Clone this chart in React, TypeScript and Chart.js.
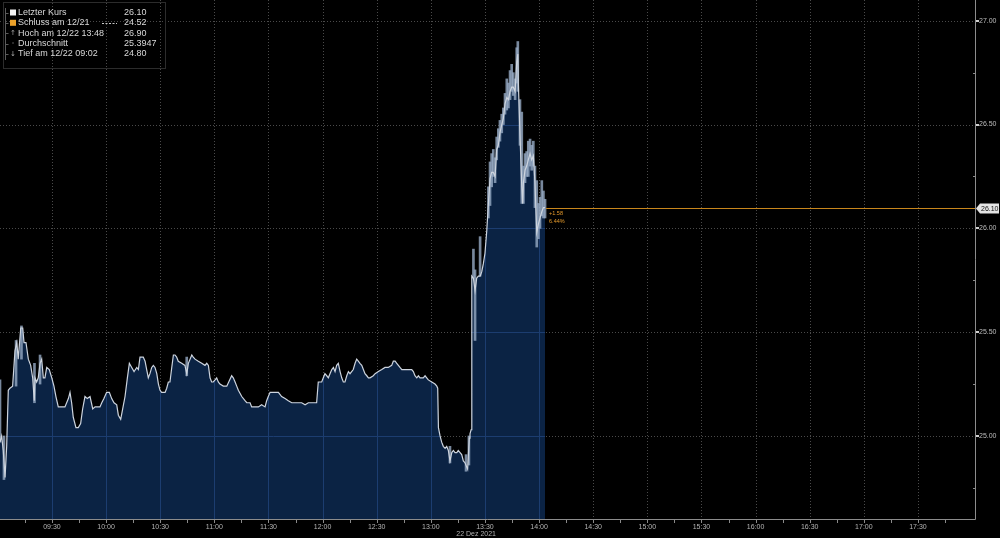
import React, { useEffect, useRef } from 'react';
import { Chart, registerables } from 'chart.js';

Chart.register(...registerables);

const FONT = '"Liberation Sans", Arial, Helvetica, sans-serif';

// ---------- data ----------
const SESSION_DATE = '22 Dez 2021';
const OPEN_MIN = 540; // 09:00 expressed in minutes after midnight

// [minutes after 09:00, price]
const morning: [number, number][] = [
  [1.2, 24.97], [2.1, 25.0], [3.0, 24.93], [4.0, 24.8], [4.9, 24.95], [5.8, 25.22], [6.7, 25.23], [8.2, 25.24],
  [9.5, 25.41], [10.5, 25.45], [11.3, 25.37], [12.7, 25.52], [13.8, 25.52], [14.5, 25.45], [15.6, 25.45], [16.9, 25.37],
  [18.2, 25.34], [19.3, 25.28], [20.2, 25.17], [20.6, 25.28], [21.5, 25.26], [22.4, 25.28], [23.4, 25.35], [24.3, 25.37],
  [25.2, 25.28], [26.1, 25.28], [27.1, 25.33], [28.5, 25.32], [29.9, 25.28], [31.1, 25.24], [32.2, 25.19], [33.5, 25.14],
  [35.4, 25.14], [37.2, 25.14], [39.1, 25.18], [40.0, 25.21], [40.9, 25.16], [41.8, 25.09], [43.3, 25.04], [44.6, 25.04],
  [45.9, 25.06], [47.0, 25.13], [48.3, 25.19], [49.6, 25.18], [51.1, 25.19], [52.6, 25.13], [53.9, 25.14], [55.1, 25.14],
  [56.6, 25.14], [57.6, 25.16], [58.8, 25.18], [60.3, 25.21], [61.8, 25.21], [63.1, 25.18], [64.4, 25.16], [65.9, 25.15],
  [66.8, 25.1], [68.1, 25.08], [69.2, 25.13], [70.5, 25.19], [71.8, 25.28], [72.9, 25.35], [74.2, 25.33], [75.5, 25.31],
  [77.0, 25.33],
];

const midday: [number, number][] = [
  [77.9, 25.32], [78.8, 25.38], [80.6, 25.38], [81.6, 25.36], [82.5, 25.32], [83.4, 25.28], [84.3, 25.3], [85.3, 25.33],
  [86.2, 25.34], [87.1, 25.33], [88.1, 25.3], [89.0, 25.25], [89.9, 25.22], [90.8, 25.21], [92.7, 25.21], [93.6, 25.23],
  [94.5, 25.26], [95.4, 25.26], [96.4, 25.33], [97.3, 25.39], [98.2, 25.39], [99.1, 25.38], [100.0, 25.36], [101.9, 25.35],
  [103.7, 25.34], [104.7, 25.3], [105.6, 25.35], [107.5, 25.39], [108.3, 25.38], [109.3, 25.37], [111.1, 25.36], [113.0, 25.35],
  [114.8, 25.34], [115.8, 25.35], [116.7, 25.34], [117.6, 25.28], [118.5, 25.26], [119.4, 25.26], [120.4, 25.27], [121.3, 25.28],
  [122.2, 25.26], [123.1, 25.25], [125.0, 25.24], [126.9, 25.24], [129.6, 25.29], [130.5, 25.28], [131.5, 25.26], [132.4, 25.24],
  [133.3, 25.22], [135.2, 25.19], [137.0, 25.17], [138.0, 25.16], [139.8, 25.16], [140.7, 25.14], [142.5, 25.14], [144.4, 25.14],
  [146.2, 25.15], [148.1, 25.14], [149.0, 25.17], [149.9, 25.19], [150.9, 25.21], [153.6, 25.21], [155.5, 25.21], [157.3, 25.19],
  [159.2, 25.18], [161.0, 25.17], [162.9, 25.16], [166.5, 25.16],
];

const lunch: [number, number][] = [
  [168.4, 25.16], [170.3, 25.15], [172.1, 25.16], [175.8, 25.16], [176.7, 25.16], [177.6, 25.26], [179.5, 25.26], [180.4, 25.28],
  [181.3, 25.3], [182.3, 25.29], [183.2, 25.28], [184.1, 25.3], [185.1, 25.32], [186.0, 25.33], [186.9, 25.31], [187.8, 25.34],
  [188.7, 25.35], [189.7, 25.31], [190.6, 25.28], [191.5, 25.26], [192.4, 25.26], [193.4, 25.29], [194.3, 25.31], [195.2, 25.3],
  [196.1, 25.31], [197.0, 25.32], [198.0, 25.35], [198.9, 25.37], [199.8, 25.36], [200.7, 25.35], [201.7, 25.34], [202.6, 25.32],
  [203.5, 25.3], [204.5, 25.29], [205.4, 25.28], [206.3, 25.28], [208.1, 25.29], [209.1, 25.3], [210.9, 25.31], [212.8, 25.32],
  [214.6, 25.33], [216.4, 25.33], [218.3, 25.34], [219.2, 25.36], [220.2, 25.36], [221.1, 25.35], [222.0, 25.34], [222.9, 25.33],
  [223.9, 25.32], [229.4, 25.32], [230.3, 25.31], [231.2, 25.29], [232.2, 25.28], [233.1, 25.29], [234.0, 25.28], [235.8, 25.28],
  [236.8, 25.29], [237.7, 25.28], [238.6, 25.27], [240.5, 25.26], [242.3, 25.25], [243.3, 25.24], [243.8, 25.23],
];

const afternoon: [number, number][] = [
  [244.2, 25.04], [245.1, 25.0], [246.0, 24.97], [246.9, 24.95], [247.9, 24.94], [248.8, 24.95], [249.7, 24.93], [250.6, 24.88],
  [251.6, 24.92], [252.5, 24.93], [253.4, 24.92], [254.4, 24.92], [255.2, 24.93], [256.2, 24.92], [257.1, 24.91], [258.0, 24.88],
  [259.0, 24.87], [259.9, 24.85], [260.4, 24.84], [261.3, 24.99], [261.7, 25.01], [262.3, 25.03], [262.7, 25.77], [263.6, 25.76],
  [264.5, 25.7], [265.4, 25.76], [266.3, 25.77], [267.3, 25.77], [268.2, 25.79], [269.1, 25.83], [270.0, 25.88], [271.0, 25.99],
  [271.9, 26.12], [272.8, 26.24], [273.7, 26.27], [274.6, 26.27], [275.6, 26.25], [276.5, 26.38], [277.4, 26.4], [278.3, 26.46],
  [279.3, 26.5], [280.2, 26.53], [281.1, 26.6], [282.1, 26.63], [283.0, 26.62], [283.9, 26.66], [284.8, 26.68], [285.7, 26.68],
  [286.7, 26.66], [287.6, 26.8], [288.2, 26.84], [288.5, 26.7], [289.4, 26.45], [290.4, 26.2], [290.9, 26.12], [291.3, 26.22],
  [292.2, 26.28], [293.1, 26.3], [294.0, 26.33], [295.0, 26.36], [295.9, 26.33], [296.8, 26.35], [297.7, 26.22], [298.7, 25.98],
  [299.6, 26.02], [300.5, 26.05], [301.5, 26.08], [302.4, 26.1], [303.3, 26.1],
];

// [minutes after 09:00, low, high] – visible per-minute ranges
const wicks: [number, number, number][] = [
  [1.2, 24.97, 25.27], [3.4, 24.79, 25.0], [10.1, 25.24, 25.46], [13.1, 25.37, 25.53], [20.3, 25.16, 25.35],
  [23.4, 25.25, 25.39], [104.7, 25.29, 25.38], [250.6, 24.87, 24.95], [259.5, 24.83, 24.91], [261.1, 24.86, 25.0],
  [263.6, 25.76, 25.9], [264.5, 25.46, 25.8], [267.3, 25.77, 25.96], [271.9, 26.05, 26.2], [272.8, 26.11, 26.32],
  [273.7, 26.2, 26.36], [274.6, 26.25, 26.38], [275.6, 26.22, 26.34], [276.5, 26.33, 26.44], [277.4, 26.39, 26.48],
  [278.3, 26.42, 26.52], [279.3, 26.46, 26.55], [280.2, 26.5, 26.58], [281.1, 26.55, 26.65], [282.1, 26.57, 26.72],
  [283.0, 26.58, 26.7], [283.9, 26.62, 26.76], [284.8, 26.66, 26.79], [285.7, 26.64, 26.75], [286.7, 26.62, 26.72],
  [287.6, 26.7, 26.87], [288.2, 26.66, 26.9], [289.4, 26.4, 26.62], [290.4, 26.12, 26.56], [291.3, 26.12, 26.3],
  [292.2, 26.22, 26.36], [293.1, 26.25, 26.37], [294.0, 26.25, 26.42], [295.0, 26.3, 26.43], [295.9, 26.28, 26.4],
  [296.8, 26.3, 26.42], [297.7, 26.1, 26.3], [298.7, 25.91, 26.23], [299.6, 25.95, 26.12], [300.5, 26.0, 26.15],
  [301.5, 26.06, 26.23], [302.4, 26.05, 26.18], [303.3, 26.05, 26.14],
];

const priceTicks = [25.0, 25.5, 26.0, 26.5, 27.0];
const timeLabels = ['09:30', '10:00', '10:30', '11:00', '11:30', '12:00', '12:30', '13:00', '13:30', '14:00',
  '14:30', '15:00', '15:30', '16:00', '16:30', '17:00', '17:30'];
const lastPrice = 26.1;
const prevClose = 24.52;

const legendLabels = ['Letzter Kurs', 'Schluss am 12/21', 'Hoch am 12/22 13:48', 'Durchschnitt', 'Tief am 12/22 09:02'];
const legendValues = ['26.10', '24.52', '26.90', '25.3947', '24.80'];

// ---------- axis config ----------
const VIEW_START = 541.2;
const VIEW_END = 1081.6;
const PRICE_MIN = 24.6;
const PRICE_MAX = 27.1;

const toMin = (s: string) => {
  const [h, m] = s.split(':').map(Number);
  return h * 60 + m;
};
const fmtTime = (v: number) => {
  const h = Math.floor(v / 60);
  const m = Math.round(v - h * 60);
  return `${String(h).padStart(2, '0')}:${String(m).padStart(2, '0')}`;
};
const halfHours = timeLabels.map(toMin);
const quarterHours: number[] = [];
for (let m = toMin('09:15'); m <= toMin('17:45'); m += 15) quarterHours.push(m);
const minorPrices = [24.75, 25.25, 25.75, 26.25, 26.75];

const series = [...morning, ...midday, ...lunch, ...afternoon].map(([t, p]) => ({ x: OPEN_MIN + t, y: p }));
const wickData = wicks.map(([t, lo, hi]) => ({ x: OPEN_MIN + t, y: [lo, hi] }));

const zeroPadding = (s: any) => {
  s.paddingTop = 0;
  s.paddingBottom = 0;
  s.paddingLeft = 0;
  s.paddingRight = 0;
};

const bbPlugin = {
  id: 'bbLook',
  beforeDraw(chart: any) {
    const { ctx, chartArea: a, scales } = chart;
    const x = scales.x;
    const y = scales.y;
    ctx.save();
    ctx.fillStyle = '#000';
    ctx.fillRect(0, 0, chart.width, chart.height);
    ctx.strokeStyle = '#4a4a4a';
    ctx.lineWidth = 1;
    ctx.setLineDash([1, 2]);
    ctx.beginPath();
    halfHours.forEach((v) => {
      const px = Math.round(x.getPixelForValue(v)) + 0.5;
      ctx.moveTo(px, a.top);
      ctx.lineTo(px, a.bottom);
    });
    priceTicks.forEach((v) => {
      const py = Math.round(y.getPixelForValue(v)) + 0.5;
      ctx.moveTo(a.left, py);
      ctx.lineTo(a.right, py);
    });
    ctx.stroke();
    ctx.restore();
  },
  beforeDatasetsDraw(chart: any) {
    const { ctx, chartArea: a, scales } = chart;
    const x = scales.x;
    const y = scales.y;
    const pts = chart.getDatasetMeta(0).data;
    if (!pts.length) return;
    ctx.save();
    ctx.beginPath();
    ctx.moveTo(pts[0].x, a.bottom);
    pts.forEach((p: any) => ctx.lineTo(p.x, p.y));
    ctx.lineTo(pts[pts.length - 1].x, a.bottom);
    ctx.closePath();
    ctx.clip();
    ctx.strokeStyle = '#1c3d70';
    ctx.lineWidth = 1;
    ctx.beginPath();
    halfHours.forEach((v) => {
      const px = Math.round(x.getPixelForValue(v)) + 0.5;
      ctx.moveTo(px, a.top);
      ctx.lineTo(px, a.bottom);
    });
    priceTicks.forEach((v) => {
      const py = Math.round(y.getPixelForValue(v)) + 0.5;
      ctx.moveTo(a.left, py);
      ctx.lineTo(a.right, py);
    });
    ctx.stroke();
    ctx.restore();
  },
  afterDatasetsDraw(chart: any) {
    const { ctx, chartArea: a, scales } = chart;
    const y = scales.y;
    const pts = chart.getDatasetMeta(0).data;
    const last = pts[pts.length - 1];
    const py = Math.round(y.getPixelForValue(lastPrice)) + 0.5;
    ctx.save();
    ctx.strokeStyle = '#c8861c';
    ctx.lineWidth = 1;
    ctx.beginPath();
    ctx.moveTo(last.x + 1, py);
    ctx.lineTo(a.right, py);
    ctx.stroke();
    const diff = lastPrice - prevClose;
    const pct = (diff / prevClose) * 100;
    ctx.fillStyle = '#e59a2b';
    ctx.font = `5.5px ${FONT}`;
    ctx.textBaseline = 'middle';
    ctx.textAlign = 'left';
    ctx.fillText(`${diff >= 0 ? '+' : ''}${diff.toFixed(2)}`, last.x + 4, py + 5);
    ctx.fillText(`${pct.toFixed(2)}%`, last.x + 4, py + 13);
    ctx.restore();
  },
  afterDraw(chart: any) {
    const { ctx, chartArea: a, scales } = chart;
    const x = scales.x;
    const y = scales.y;
    ctx.save();
    // axis lines
    ctx.strokeStyle = '#8c8c8c';
    ctx.lineWidth = 1;
    ctx.beginPath();
    ctx.moveTo(a.right + 0.5, a.top);
    ctx.lineTo(a.right + 0.5, a.bottom + 0.5);
    ctx.moveTo(a.left, a.bottom + 0.5);
    ctx.lineTo(a.right + 0.5, a.bottom + 0.5);
    ctx.stroke();
    // x tick marks
    ctx.strokeStyle = '#8a8a8a';
    ctx.beginPath();
    quarterHours.forEach((v) => {
      const px = Math.round(x.getPixelForValue(v)) + 0.5;
      ctx.moveTo(px, a.bottom + 1);
      ctx.lineTo(px, a.bottom + 4);
    });
    ctx.stroke();
    // y tick marks
    ctx.fillStyle = '#cfcfcf';
    priceTicks.forEach((v) => {
      const py = Math.round(y.getPixelForValue(v));
      ctx.fillRect(a.right + 1, py - 1, 3, 2);
    });
    ctx.fillStyle = '#8a8a8a';
    minorPrices.forEach((v) => {
      const py = Math.round(y.getPixelForValue(v));
      ctx.fillRect(a.right - 2, py, 2, 1);
    });
    // last price box
    const lp = Math.round(y.getPixelForValue(lastPrice)) + 0.5;
    ctx.fillStyle = '#e4e4e4';
    ctx.beginPath();
    ctx.moveTo(a.right + 1, lp);
    ctx.lineTo(a.right + 5, lp - 5);
    ctx.lineTo(chart.width - 1, lp - 5);
    ctx.lineTo(chart.width - 1, lp + 5);
    ctx.lineTo(a.right + 5, lp + 5);
    ctx.closePath();
    ctx.fill();
    ctx.fillStyle = '#111';
    ctx.font = `7px ${FONT}`;
    ctx.textBaseline = 'middle';
    ctx.textAlign = 'left';
    ctx.fillText(lastPrice.toFixed(2), a.right + 6, lp + 0.5);
    // date
    ctx.fillStyle = '#b0b0b0';
    ctx.textAlign = 'right';
    ctx.fillText(SESSION_DATE, x.getPixelForValue(toMin('13:30')) + 11, a.bottom + 15);
    // legend
    ctx.strokeStyle = '#2c2c2c';
    ctx.strokeRect(3.5, 2.5, 162, 66);
    ctx.strokeStyle = '#5c5c5c';
    ctx.beginPath();
    ctx.moveTo(5.5, 8);
    ctx.lineTo(5.5, 60);
    ctx.stroke();
    ctx.font = `9px ${FONT}`;
    ctx.textAlign = 'left';
    legendLabels.forEach((label, i) => {
      const ry = 12.7 + i * 10.3;
      ctx.strokeStyle = '#5c5c5c';
      ctx.beginPath();
      ctx.moveTo(5.5, Math.round(ry) + 0.5);
      ctx.lineTo(8.5, Math.round(ry) + 0.5);
      ctx.stroke();
      if (i === 0 || i === 1) {
        ctx.fillStyle = i === 0 ? '#f2f2f2' : '#eba12a';
        ctx.fillRect(10, ry - 3.2, 6, 6);
      } else {
        ctx.fillStyle = '#a8a8a8';
        ctx.font = `7px "DejaVu Sans", sans-serif`;
        ctx.textAlign = 'center';
        ctx.fillText(i === 2 ? '↑' : i === 3 ? '-' : '↓', 13, ry);
        ctx.font = `9px ${FONT}`;
        ctx.textAlign = 'left';
      }
      ctx.fillStyle = '#d8d8d8';
      ctx.fillText(label, 18, ry);
      ctx.fillText(legendValues[i], 124, ry);
    });
    ctx.strokeStyle = '#c8c8c8';
    ctx.setLineDash([2, 1.5]);
    ctx.beginPath();
    ctx.moveTo(102, 23.5);
    ctx.lineTo(117, 23.5);
    ctx.stroke();
    ctx.restore();
  },
};

export default function App() {
  const ref = useRef<HTMLCanvasElement>(null);
  useEffect(() => {
    document.body.style.margin = '0';
    document.body.style.background = '#000';
    const chart = new Chart(ref.current as HTMLCanvasElement, {
      type: 'line',
      data: {
        datasets: [
          {
            type: 'line',
            data: series as any,
            borderColor: '#cdd4de',
            borderWidth: 1.2,
            backgroundColor: '#0b2344',
            fill: 'start',
            pointRadius: 0,
            tension: 0,
          },
          {
            type: 'bar',
            data: wickData as any,
            backgroundColor: 'rgba(150,170,196,0.8)',
            borderWidth: 0,
            barThickness: 2,
            grouped: false,
          } as any,
        ],
      },
      options: {
        animation: false,
        responsive: false,
        devicePixelRatio: 1,
        layout: { padding: 0 },
        events: [],
        plugins: {
          legend: { display: false },
          tooltip: { enabled: false },
          filler: { drawTime: 'beforeDatasetsDraw' } as any,
        },
        scales: {
          x: {
            type: 'linear',
            position: 'bottom',
            min: VIEW_START,
            max: VIEW_END,
            offset: false,
            grid: { display: false, drawTicks: false, offset: false },
            border: { display: false },
            afterBuildTicks: (s: any) => {
              s.ticks = quarterHours.map((v) => ({ value: v }));
            },
            afterFit: (s: any) => {
              s.height = 19;
              zeroPadding(s);
            },
            ticks: {
              autoSkip: false,
              maxRotation: 0,
              padding: 4,
              color: '#b4b4b4',
              font: { family: FONT, size: 7 },
              callback: (v: any) => (Number(v) % 30 === 0 ? fmtTime(Number(v)) : ''),
            },
          },
          y: {
            type: 'linear',
            position: 'right',
            min: PRICE_MIN,
            max: PRICE_MAX,
            beginAtZero: false,
            grid: { display: false, drawTicks: false },
            border: { display: false },
            afterBuildTicks: (s: any) => {
              s.ticks = priceTicks.map((v) => ({ value: v }));
            },
            afterFit: (s: any) => {
              s.width = 25;
              zeroPadding(s);
            },
            ticks: {
              padding: 4,
              color: '#bdbdbd',
              font: { family: FONT, size: 7 },
              callback: (v: any) => Number(v).toFixed(2),
            },
          },
        },
      },
      plugins: [bbPlugin],
    });
    return () => chart.destroy();
  }, []);
  return (
    <div style={{ width: 1000, height: 538, background: '#000' }}>
      <canvas ref={ref} width={1000} height={538} style={{ display: 'block' }} />
    </div>
  );
}
